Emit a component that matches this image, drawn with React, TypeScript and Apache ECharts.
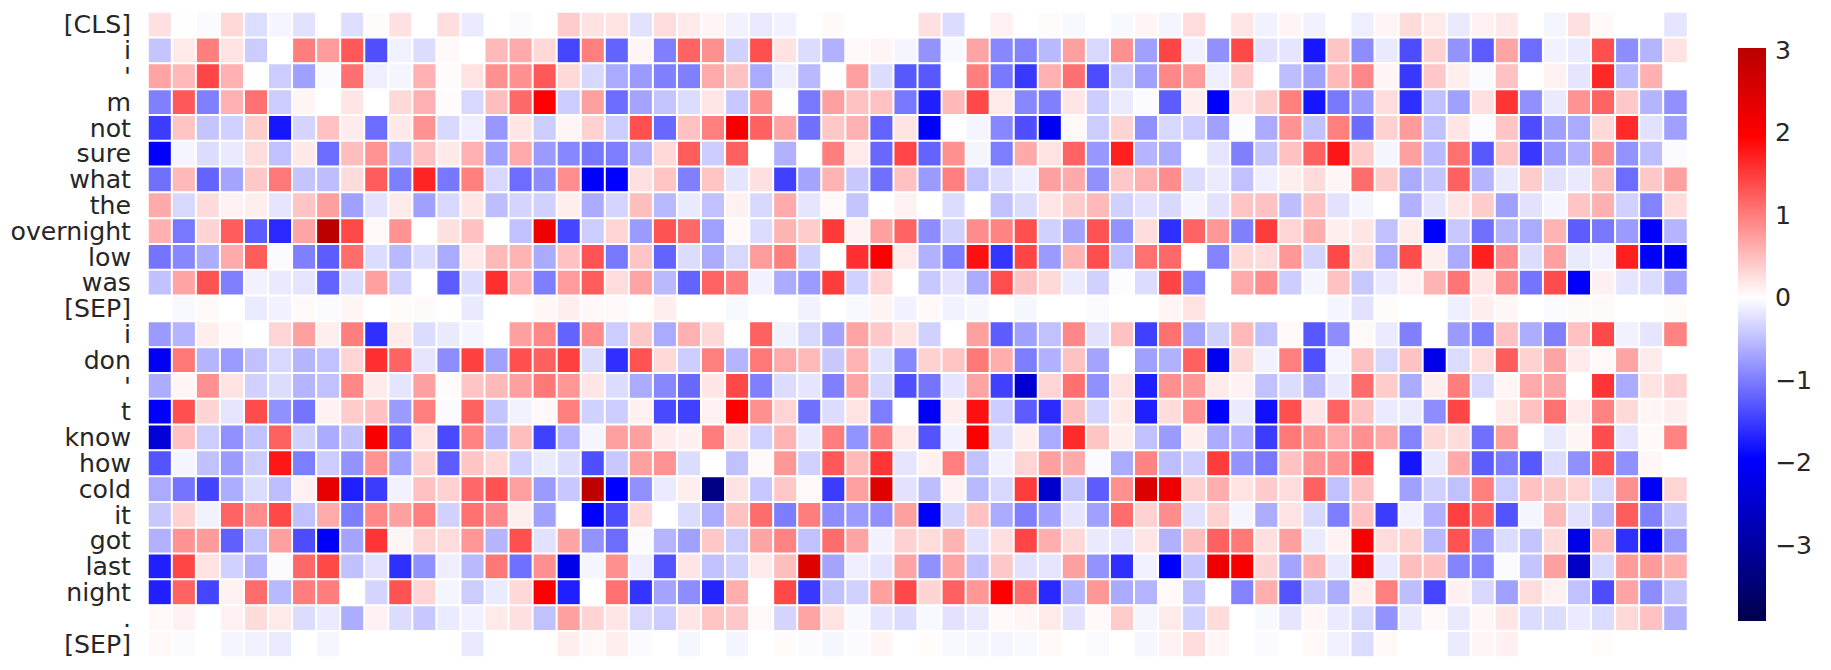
import React, { useEffect, useRef } from "react";
import * as echarts from "echarts";

const tokens = ["[CLS]", "i", "'", "m", "not", "sure", "what", "the", "overnight", "low", "was", "[SEP]", "i", "don", "'", "t", "know", "how", "cold", "it", "got", "last", "night", ".", "[SEP]"];

const rowCls = [0.24, -0.01, -0.03, 0.3, -0.26, -0.08, -0.22, 0, -0.25, 0.03, 0.23, 0, 0.25, -0.15, 0, -0.04, 0, 0.39, 0.22, 0.22, -0.22, 0.27, 0.16, 0.08, -0.11, -0.18, -0.11, 0, 0.04, 0, 0, 0, 0.24, -0.27, 0, 0.11, 0, 0.03, -0.05, 0, -0.05, 0.08, -0.08, 0.27, 0, 0.2, -0.11, 0.08, -0.11, 0, -0.13, 0.08, 0.27, 0.16, -0.16, 0.11, 0.17, 0, -0.08, 0.24, 0.05, 0, 0, -0.2];
const rowI1 = [-0.45, 0.17, 0.98, 0.22, -0.39, 0, 0.98, 0.77, 1.28, -1.35, -0.11, -0.27, 0.05, 0, 0.54, 0.65, 0.3, -1.43, 0.98, -1.2, 0.08, -0.98, 1.2, 0.85, -0.35, 1.35, 0.22, -0.27, -0.6, 0.05, 0.08, -0.08, -0.83, -0.05, 0.7, -0.92, -0.95, -0.54, 0.73, -0.3, 0.85, -0.73, 1.43, -0.11, -0.85, 1.4, -0.22, -0.2, -1.78, 0.45, -0.88, -0.16, -1.37, 0.35, -0.83, -1.26, 0.7, -1.13, -0.11, -0.15, 1.35, -0.88, -0.58, 0.22];
const rowApos1 = [0.7, 0.54, 1.43, 0.6, 0, -0.39, -0.73, -0.04, 1.1, -0.13, -0.08, 0.6, 0.03, 0.22, 0.85, 0.85, 1.28, 0.3, -0.3, -0.65, -0.77, -0.98, -0.98, 0.65, 0.48, -0.65, -0.13, -0.54, 0, 0.73, -0.27, -1.28, -1.28, 0, 0.98, -1.04, -1.53, 0.6, 1.1, -1.37, -0.39, -0.73, 0.92, 0.77, -0.13, 0.39, 0, -0.5, -0.73, 0.54, 0.92, 0.08, -1.53, 0.42, 0.13, -0.03, 0.48, 0, 0.11, -0.2, 1.65, -0.54, 0.6, 0];
const rowM = [-0.98, 1.28, -0.98, 0.6, 1.1, -0.39, 0.08, 0, 0.2, 0, 0.3, 0.6, 0.03, -0.3, 0.5, 1.16, 1.96, -0.39, 0.73, -1.13, -0.7, -0.45, -0.27, 0.2, -0.42, 0.85, 0, -1.04, 0.73, 0.48, 0.48, -1.04, -1.72, 0.54, 1.4, 0.17, -0.92, -0.98, 0.2, -0.39, -0.15, -0.03, -1.25, 0.13, -1.96, 0.22, 0.39, 0.98, -1.8, -1.04, -0.77, 0.27, -1.6, -0.48, -0.73, 0.24, 1.56, -0.85, -0.16, 0.83, 1.2, 0.42, -0.58, -0.85];
const rowNot = [-1.5, 0.45, -0.45, -0.35, 0.39, -1.78, -0.33, 0.48, 0.15, -1.13, 0.17, 0.83, -0.3, -0.13, -0.8, 0.2, -0.39, 0.08, 0.35, -0.39, 1.35, -1.16, 0.48, 0.98, 2.05, 1.22, 0.7, -1.1, 0.42, 0.6, -1.2, 0.22, -1.96, 0, -0.08, -0.92, -1.35, -2.1, 0.05, -0.39, 0.33, -0.85, -0.3, -0.39, -0.73, -0.02, -0.65, 0.83, -0.48, 0.98, -1.13, 0.35, 0.77, -0.48, 0.2, -0.02, 0.45, -1.37, -0.73, -0.65, 0.3, 1.63, -0.22, -0.73];
const rowSure = [-2.0, -0.08, -0.27, -0.16, 0.27, -0.48, 0.17, -1.13, 0.5, 0.83, -0.54, 0.48, 0.17, 0.6, -0.73, 0.65, -0.77, -0.92, -1.04, -1.0, -0.6, 0.3, 1.25, -0.39, 1.22, 0, -0.6, 0, 0.98, 0.17, -1.16, 1.43, -1.2, 0.85, -0.08, -1.0, 0.65, 0.22, 1.2, -0.8, 1.72, -0.58, -0.65, 0, -0.2, -0.98, -0.45, 0.48, 1.22, 1.8, 0.39, -0.08, 0.73, -0.54, 1.1, -1.28, 0.45, -1.53, -0.77, -0.6, 0.85, -0.83, -0.5, -0.03];
const rowWhat = [-1.1, 0.54, -1.2, -0.7, 0.42, 1.04, -0.45, -0.5, 0.27, 1.25, -1.0, 1.68, -1.04, 0.98, -0.3, -1.13, -0.88, 0.88, -1.96, -1.96, 0.24, 0.45, -0.98, 0.45, -0.2, 0.24, -1.47, -0.7, 0.58, -0.42, -1.1, 0.48, -0.77, 0.98, -0.48, -0.27, -0.13, 0.73, 0.65, -0.85, 0.42, 0.6, 0.88, -0.27, -0.15, -0.48, -0.13, 0.13, 0.27, 0.08, 1.13, 0.39, -0.65, -0.45, 1.22, -0.58, -0.16, 0.39, -0.22, -0.16, 0.5, -1.13, 0.42, 0.73];
const rowThe = [0.65, -0.3, 0.27, 0.11, 0.13, -0.2, 0.45, 0.73, -0.73, -0.22, 0.16, -0.73, -0.3, 0.2, -0.5, -0.33, -0.35, 0.13, -0.65, -0.33, 0.5, -0.54, -0.16, -0.48, 0.11, -0.3, 0.65, -0.2, 0.05, -0.45, 0, 0.11, 0, -0.27, 0, -0.48, -0.27, 0.2, 0.39, 0.54, -0.35, -0.22, -0.3, -0.08, -0.22, 0.45, 0.48, -0.5, 0.48, -0.22, -0.08, 0, -0.6, -0.2, 0.2, 0.39, -0.73, -0.22, -0.08, 0.45, 0.6, -0.35, -0.95, 0.27];
const rowOvernight = [0.6, -1.04, 0.33, 1.25, -1.25, -1.65, 0.7, 3.03, 1.4, 0.05, 0.83, 0, 0.24, 0.48, 0, -0.48, 2.2, -1.43, -0.39, 0.33, -0.77, 1.32, 1.16, -0.73, 0.05, -0.27, 0.58, 0.39, 1.53, 0.11, 0.73, 1.2, -0.88, -0.35, 0.88, 0.95, 1.35, -0.35, -0.7, 1.32, -0.83, 0.27, -1.6, 1.2, 0.8, -0.98, 1.5, 0.33, 0.63, 0.13, 0.2, -0.48, 0.15, -1.96, -0.42, -1.1, -0.58, -0.65, 0.58, -1.25, -1.04, -0.77, -1.96, -0.58];
const rowLow = [-1.07, -0.92, -0.63, 0.65, 1.25, -0.03, -0.98, -1.25, 1.13, -0.27, -0.54, -0.27, -0.65, 0.17, 0.54, 0.58, -0.65, 0.48, 1.32, -1.04, 0.45, -1.2, -0.27, -0.65, -0.3, 0.77, 0.98, -0.35, 0, 1.6, 2.0, 0.17, -0.6, -1.0, 1.84, -1.56, 1.43, -0.77, 0.58, 1.37, -0.48, 1.1, 1.16, 0, -0.95, 0.3, 0.27, 0.8, -0.33, 1.4, 0.27, -0.65, 1.37, 0.13, -0.65, 1.72, 0.88, -0.27, 0.73, -0.16, -0.11, 1.72, -1.96, -2.02];
const rowWas = [-0.48, 0.7, 1.32, -0.98, -0.11, -0.16, -0.2, -1.2, -0.27, 0.73, -0.35, 0, -1.25, -0.27, 1.6, 0.6, -1.0, 0.77, 1.25, 0.27, 0.7, -0.54, -1.2, 1.2, 1.0, -0.11, -0.65, -0.77, 1.5, -0.35, 0.33, 0, -0.42, -0.22, -0.65, 1.37, 0.48, 0.3, -0.15, -0.35, -0.02, -0.27, 1.43, -0.95, 0, 0.65, 0.88, -0.39, -0.08, 0.48, -0.42, -0.16, 0.11, 0.58, 1.07, 0.2, 0.88, -1.07, 1.37, -2.0, 0.11, -0.2, -0.27, -0.7];
const rowSep1 = [0, -0.05, 0.04, 0, -0.15, -0.11, 0.04, -0.03, 0.08, 0, 0.03, 0.04, 0, -0.16, 0, 0, 0.07, 0.13, 0.05, 0.05, 0, 0.13, 0, 0, -0.05, 0, 0, -0.1, 0, -0.05, 0.09, -0.11, 0.05, -0.1, -0.07, 0, -0.07, 0, 0, -0.03, 0, 0, 0.08, 0.22, 0, 0, 0, 0, 0, -0.08, -0.22, 0.03, 0, 0, -0.13, 0.13, 0.07, 0, -0.03, 0.04, 0.04, 0, 0, 0.03];
const rowI2 = [-0.77, -0.58, 0.13, 0.05, 0, 0.33, 0.73, 0.13, 0.98, -1.6, 0.16, -0.27, -0.16, -0.08, 0, 0.73, 0.92, -1.2, 0.88, -0.39, 0.42, -0.65, 0.6, 0.3, 0, 1.22, -0.1, -0.3, -0.7, 0.7, 0.42, 0.22, -0.35, 0, 0.73, -1.25, -0.73, -0.48, 0.92, -0.22, 0.48, -1.47, 1.1, -0.7, -0.35, 0.54, -0.48, 0.05, -1.28, -0.88, 0.05, -0.15, -0.98, 0, -0.77, -1.0, 0.48, -0.63, -0.98, 0.48, 1.4, -0.11, -0.2, 0.95];
const rowDon = [-2.1, 1.04, -0.58, -0.77, -0.48, -0.3, -0.58, -0.48, 0.33, 1.6, 1.2, -0.2, -0.88, 1.47, -0.73, 1.35, 1.22, 1.47, -0.27, -1.6, 1.32, 0.3, -0.39, 0.98, -0.58, 1.04, 0.65, 0.54, -0.42, 0.58, -0.22, -0.92, 0.35, 0.45, 1.04, 0.63, -1.0, -0.6, 0.48, -0.7, 0, -0.73, -0.6, 1.22, -2.15, 0.3, -0.11, 0.98, -1.35, -0.08, 0.48, -0.3, 0.48, -2.2, -0.27, 0.27, 1.25, 0.35, 0.7, 0.15, 0.05, 0.7, 0.15, 0];
const rowApos2 = [-0.63, 0.08, 0.85, 0.22, -0.35, -0.27, -0.58, -0.48, 0.92, 0.15, -0.2, 0.73, 0.03, 0.45, 0.54, 0.73, 1.04, 0.8, 0.2, -0.27, -0.65, -0.92, -1.16, 0.2, 1.4, -0.98, -0.27, -0.2, -0.98, 0.7, -0.3, -1.35, -1.07, -0.2, 0.7, -1.47, -2.43, 0.33, 1.1, -0.85, 0.22, -1.72, 0.85, 0.8, 0.16, 0.11, -0.48, -0.27, -0.6, -0.16, 1.13, 0.39, -0.65, 0.13, 1.0, -0.3, 0.08, 0.65, 0.7, 0, 1.56, -0.65, 0.22, 0.35];
const rowT = [-1.96, 1.35, 0.33, -0.2, 1.37, -0.85, -1.07, 0.11, 0.39, 0.48, -0.77, 0.98, -0.03, 1.22, -0.45, -0.1, 0.05, 0.98, -0.35, -0.39, 0.11, -1.4, -1.47, 0.11, 1.96, 0.85, 0.33, -1.1, -0.27, 0.22, -1.0, 0, -2.05, 0.13, 1.84, -0.39, -1.25, -1.63, 0.5, -0.33, 0.17, -1.72, 0.27, 0.83, -1.96, -0.16, -1.84, 1.35, 0.2, 1.2, 0.48, -0.15, -0.15, -0.88, 1.43, 0, 0.16, 0.48, 1.1, 0.15, 0.95, 0.3, 0.08, 0.13];
const rowKnow = [-2.4, 0.48, -0.39, -0.85, -0.48, 1.22, -0.35, -0.65, -0.48, 2.05, -1.22, 0.22, -1.4, 0.95, -0.58, 0.5, -1.47, -0.58, -0.08, 0.73, 0.73, 0.15, 0.11, 1.0, 0.2, -0.35, 0.58, -0.16, 1.0, -0.83, 0.98, 0.16, -1.32, -0.11, 2.0, -0.27, 0.13, -0.65, 1.63, 0.45, 0.13, -0.48, -0.77, 0.13, -0.65, -0.6, -1.5, 1.04, 0.85, 0.65, 0.85, 0.65, -0.95, 0.3, 0.27, -1.1, 0.73, 0, -0.16, 0.08, 1.37, -0.2, 0.05, 0.95];
const rowHow = [-1.32, -0.08, -0.48, -0.77, -0.39, 1.78, -1.0, -0.39, -0.83, 0.83, -0.73, 0.35, -1.25, 0.45, 0.3, -0.35, -0.15, -0.27, -1.35, -0.42, 0.73, 0.83, -0.27, 0, -0.48, 0.05, 0.8, -0.35, 1.28, 0.54, 1.56, -0.2, 0.11, 0.98, -0.48, -0.11, 0.33, 0.73, 0.65, -0.03, -0.65, 0.95, -0.5, -0.39, 1.5, -0.83, -1.04, 0.48, 0.8, 0.85, 1.4, 0, -1.8, -0.16, 0.65, -1.25, -1.0, -1.28, -0.27, -0.85, 1.32, -0.85, 0.07, 0];
const rowCold = [-0.65, -1.07, -1.43, -0.63, -0.27, -0.5, 0.11, 2.35, -1.72, -1.5, -0.1, 0.48, 0.35, 1.16, 1.32, 0.73, -0.77, -0.42, 2.95, -1.96, -0.85, -0.15, 0.13, -3.3, 0.22, -0.42, 0.42, 0.05, -1.5, 0.73, 2.45, -0.22, -0.5, 0.11, -0.54, -0.3, 1.5, -2.5, -0.45, -1.25, 0.85, 2.5, 2.2, 0.35, 0.63, 0.22, 0.4, 0.27, 1.22, -0.48, 0.48, 0, -0.73, -0.35, -0.48, 0.98, -0.39, 0.48, 0.42, 0.33, -0.3, 0.85, -2.05, 0.33];
const rowIt = [-0.42, 0.35, -0.1, 1.2, 0.88, 1.4, -0.48, 0.65, -1.0, 0.92, 0.73, 0.98, -0.35, 1.1, 0.92, 0.13, -0.73, 0, -1.96, -1.37, 0.3, 0, -0.27, -0.65, 0.48, 1.13, -1.0, 1.0, -0.88, -0.77, -0.85, 0.73, -1.96, -0.33, 0.48, -0.65, -0.98, -0.73, -0.2, -0.73, 1.13, 0.35, 0.88, -0.22, 0.35, -0.08, -0.63, 0.22, -0.3, -1.0, 0.48, -1.5, -0.11, -0.6, 1.47, 1.22, -1.32, -0.08, 0.54, -0.22, -0.54, 1.25, -0.98, -0.42];
const rowGot = [-0.6, 0.83, 0.77, -1.22, -0.48, 0.73, -1.37, -2.05, -0.7, 1.56, 0.08, 0.33, 0.27, 0.8, -0.58, 1.35, -0.22, 0.7, -0.83, -1.13, -0.03, -0.58, -0.73, 0.42, -0.39, 0.7, 0.95, -0.48, 1.13, 0.7, -0.11, 0.35, 0.27, 0.58, -0.22, 0.24, 1.43, 0.63, 0.3, -0.16, -0.2, 0.2, -0.6, 0.5, 1.22, 1.04, 0.24, 0.73, -0.15, 0.11, 2.05, 0.27, 0.35, -0.54, 1.32, -0.85, -0.27, -0.45, 0.27, -2.2, 0.54, -1.6, -1.96, -0.77];
const rowLast = [-1.72, 1.43, 0.22, -0.35, -0.6, -0.03, 1.16, 1.4, -0.48, -0.22, -1.6, -0.85, -0.13, -0.54, 1.04, -1.1, 0.85, -2.2, -0.08, 0.85, -0.13, -1.32, 0.2, -0.48, -0.35, 0.15, 0.5, 2.45, -0.7, -0.13, -0.2, 0.7, -0.85, 0.7, -0.48, 0.42, -0.22, -0.2, 0.73, -0.83, -1.6, -0.11, -1.96, -0.45, 2.2, 2.1, 0.33, -0.7, 0.6, -0.16, 2.2, -0.16, 0.5, 0.48, -0.95, -0.95, -0.03, -0.45, 0.73, -2.55, -0.3, 0.77, 0.77, 0.63];
const rowNight = [-1.72, 1.2, -1.43, 0.11, 1.13, -0.54, 1.0, 1.0, 0, -0.33, 1.32, 0.33, -0.08, -0.39, -0.15, 0.3, 2.0, -1.72, 0, 1.1, -1.56, -0.7, -0.88, -1.68, 0.63, 0, 1.4, -1.53, -0.48, -0.35, 0.73, 1.4, 0.33, 1.22, 0.8, 1.96, 1.13, -1.65, -0.58, 0.8, -0.65, -0.58, 0.05, -0.48, 0, -0.95, 0.63, -1.32, -0.42, -0.63, 0.13, 0.98, -0.5, -1.43, 0.11, -0.3, -0.73, 0.27, 0.11, -0.48, -1.37, 0.7, -0.88, -0.45];
const rowDot = [0.05, 0.11, 0, 0.11, 0.27, 0.16, -0.27, -0.15, -0.63, 0.11, -0.27, -0.42, -0.15, -0.11, 0.16, 0.24, -0.48, 0.73, 0.33, 0.2, -0.3, -0.39, 0.2, 0.45, 0.42, 0.05, -0.33, 0.7, 0.22, -0.05, -0.2, -0.27, -0.05, -0.22, -0.16, 0.05, 0.08, 0.16, -0.22, 0.05, 0.39, -0.08, 0.16, -0.35, 0.27, 0, -0.05, -0.2, 0.07, -0.15, -0.3, -0.83, -0.16, 0.05, -0.16, 0.07, 0.2, -0.27, -0.27, -0.15, -0.27, 0.3, 0.48, -0.6];
const rowSep2 = [0.05, -0.03, 0, -0.08, -0.1, -0.15, 0, -0.07, 0, 0, 0, 0, 0, -0.16, 0, 0, 0, 0.13, 0.05, 0.13, -0.03, 0, -0.07, 0, -0.08, 0, 0.03, -0.03, -0.07, -0.03, 0.08, 0, 0.02, -0.05, -0.07, -0.08, -0.05, 0.05, 0, -0.03, 0, -0.07, 0.11, 0.27, 0.08, 0, -0.03, 0, 0.05, -0.11, -0.27, 0.05, 0, 0, -0.15, 0.08, 0.11, 0, 0, 0, 0.02, 0, 0, 0];

const rows = [rowCls, rowI1, rowApos1, rowM, rowNot, rowSure, rowWhat, rowThe, rowOvernight, rowLow, rowWas, rowSep1, rowI2, rowDon, rowApos2, rowT, rowKnow, rowHow, rowCold, rowIt, rowGot, rowLast, rowNight, rowDot, rowSep2];
const columnCount = 64;
const columns = Array.from({ length: columnCount }, (_, i) => String(i));
const colorbarTicks = [-3, -2, -1, 0, 1, 2, 3];
const colorMin = -3.92;
const colorMax = 3.92;
const barMax = 3.03;

export default function App() {
  const ref = useRef<HTMLDivElement>(null);
  useEffect(() => {
    document.body.style.margin = "0";
    const chart = echarts.init(ref.current!, undefined, { renderer: "svg" });
    const cells: number[][] = [];
    rows.forEach((row, y) => row.forEach((v, x) => cells.push([x, y, v])));
    const textColor = "#262626";
    const font = "DejaVu Sans";
    const span = barMax - colorMin;
    chart.setOption({
      animation: false,
      backgroundColor: "#ffffff",
      grid: [
        { left: 148, top: 12, width: 1539.5, height: 645 },
        { left: 1738, top: 48, width: 28, height: 573 },
      ],
      xAxis: [
        { type: "category", data: columns, gridIndex: 0, show: false },
        { type: "value", gridIndex: 1, show: false, min: 0, max: 1 },
      ],
      yAxis: [
        {
          type: "category",
          data: tokens,
          inverse: true,
          gridIndex: 0,
          axisLine: { show: false },
          axisTick: { show: false },
          splitLine: { show: false },
          axisLabel: { interval: 0, fontSize: 25.2, fontFamily: font, color: textColor, margin: 17 },
        },
        {
          type: "value",
          gridIndex: 1,
          position: "right",
          min: colorMin,
          max: barMax,
          axisLine: { show: false },
          splitLine: { show: false },
          axisTick: { show: true, length: 10, lineStyle: { color: textColor, width: 2 }, customValues: colorbarTicks },
          axisLabel: {
            fontSize: 25.2,
            fontFamily: font,
            color: textColor,
            margin: 9,
            customValues: colorbarTicks,
            formatter: (v: number) => (v < 0 ? "\u2212" + Math.abs(v) : String(v)),
          },
        },
      ],
      visualMap: {
        show: false,
        type: "continuous",
        seriesIndex: 0,
        dimension: 2,
        min: colorMin,
        max: colorMax,
        inRange: { color: ["#00004d", "#0000ff", "#ffffff", "#ff0000", "#800000"] },
      },
      graphic: [
        {
          type: "rect",
          z: 1,
          shape: { x: 1738, y: 48, width: 28, height: 573 },
          style: {
            fill: new echarts.graphic.LinearGradient(0, 0, 0, 1, [
              { offset: 0, color: "#b90000" },
              { offset: (barMax - 1.96) / span, color: "#ff0000" },
              { offset: barMax / span, color: "#ffffff" },
              { offset: (barMax + 1.96) / span, color: "#0000ff" },
              { offset: 1, color: "#00004d" },
            ]),
          },
        },
      ],
      series: [
        {
          type: "heatmap",
          xAxisIndex: 0,
          yAxisIndex: 0,
          data: cells,
          progressive: 0,
          itemStyle: { borderColor: "#ffffff", borderWidth: 2 },
          emphasis: { disabled: true },
        },
      ],
    });
    return () => chart.dispose();
  }, []);
  return <div ref={ref} style={{ position: "absolute", left: 0, top: 0, width: 1831, height: 670 }} />;
}
